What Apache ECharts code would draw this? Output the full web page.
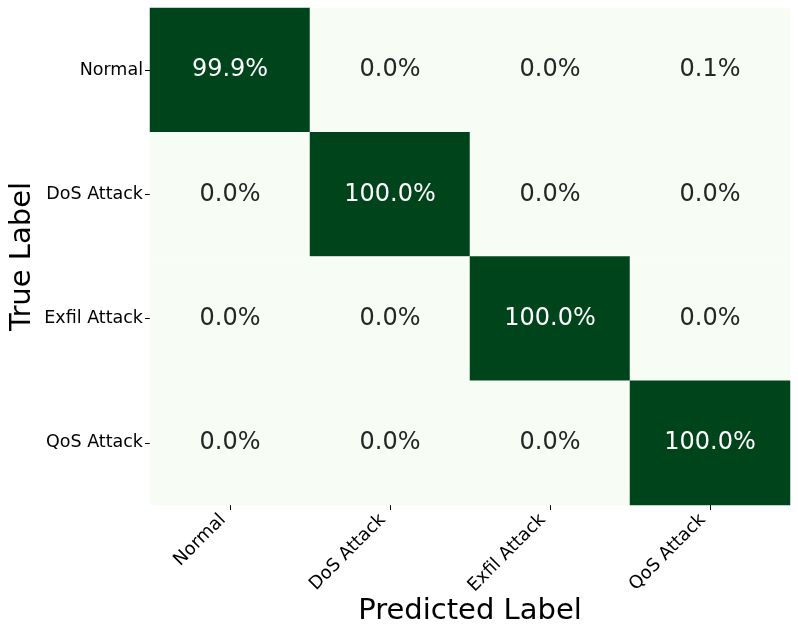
<!DOCTYPE html>
<html>
    <head>
        <meta charset="utf-8">
        <script src="https://cdn.jsdelivr.net/npm/echarts@6/dist/echarts.min.js"></script>
    </head>
    <body style="margin:0;background:#fff;">
        <div id="main" style="width: 798px;height:638px;"></div>
        <script type="text/javascript">
            // 类别和数值（百分比）
            var labels = ['Normal', 'DoS Attack', 'Exfil Attack', 'QoS Attack'];
            var rowNormal = [99.9, 0.0, 0.0, 0.1];
            var rowDos = [0.0, 100.0, 0.0, 0.0];
            var rowExfil = [0.0, 0.0, 100.0, 0.0];
            var rowQos = [0.0, 0.0, 0.0, 100.0];
            var rows = [rowNormal, rowDos, rowExfil, rowQos];

            var data = [];
            rows.forEach(function (row, y) {
                row.forEach(function (v, x) {
                    data.push([x, y, v]);
                });
            });

            var font = 'DejaVu Sans';
            let myChart = echarts.init(document.getElementById('main'));

            let option = {
                backgroundColor: '#ffffff',
                animation: false,
                grid: { left: 150, right: 8, top: 8, bottom: 133, containLabel: false, outerBoundsMode: 'none' },
                xAxis: {
                    type: 'category',
                    data: labels,
                    name: 'Predicted Label',
                    nameLocation: 'middle',
                    nameGap: 92,
                    nameMoveOverlap: false,
                    nameTextStyle: { fontFamily: font, fontSize: 29, color: '#000' },
                    axisLine: { show: false },
                    axisTick: { show: true, alignWithLabel: true, length: 5, lineStyle: { color: '#000' } },
                    axisLabel: { rotate: 45, margin: 5, padding: [0, 10, 0, 0], fontFamily: font, fontSize: 18, color: '#000' },
                    splitLine: { show: false }
                },
                yAxis: {
                    type: 'category',
                    data: labels,
                    inverse: true,
                    name: 'True Label',
                    nameLocation: 'middle',
                    nameGap: 113,
                    nameMoveOverlap: false,
                    nameTextStyle: { fontFamily: font, fontSize: 29, color: '#000' },
                    axisLine: { show: false },
                    axisTick: { show: true, alignWithLabel: true, length: 5, lineStyle: { color: '#000' } },
                    axisLabel: { margin: 7, fontFamily: font, fontSize: 17.5, color: '#000' },
                    splitLine: { show: false }
                },
                visualMap: {
                    show: false,
                    min: 0,
                    max: 100,
                    calculable: false,
                    inRange: {
                        color: ['#f7fcf5', '#e5f5e0', '#c7e9c0', '#a1d99b', '#74c476',
                            '#41ab5d', '#238b45', '#006d2c', '#00441b']
                    }
                },
                series: [{
                    type: 'heatmap',
                    data: data,
                    label: {
                        show: true,
                        formatter: function (p) {
                            var v = p.value[2];
                            var s = v.toFixed(1) + '%';
                            return v > 50 ? '{w|' + s + '}' : '{d|' + s + '}';
                        },
                        rich: {
                            w: { color: '#ffffff', fontFamily: font, fontSize: 24 },
                            d: { color: '#262626', fontFamily: font, fontSize: 24 }
                        }
                    },
                    itemStyle: { borderWidth: 0 },
                    emphasis: { disabled: true }
                }]
            };

            myChart.setOption(option);
        </script>
    </body>
</html>
